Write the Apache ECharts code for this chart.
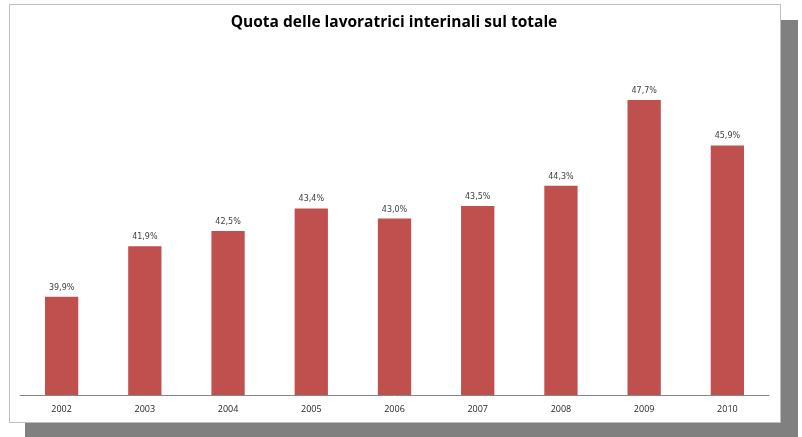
<!DOCTYPE html>
<html><head><meta charset="utf-8">
<script src="https://cdn.jsdelivr.net/npm/echarts@6/dist/echarts.min.js"></script>
<style>html,body{margin:0;padding:0;background:#fff}#c{width:802px;height:437px}</style>
</head><body><div id="c"></div>
<script>
const categories = ['2002','2003','2004','2005','2006','2007','2008','2009','2010'];
const values = [39.9, 41.9, 42.5, 43.4, 43.0, 43.5, 44.3, 47.7, 45.9];
const titleText = 'Quota delle lavoratrici interinali sul totale';

const chart = echarts.init(document.getElementById('c'), null, {renderer:'canvas'});
chart.setOption({
  animation:false,
  backgroundColor:'#fff',
  graphic:[
    {type:'rect', z:-10, silent:true, shape:{x:25,y:20,width:773,height:417}, style:{fill:'#808080'}},
    {type:'rect', z:-9, silent:true, shape:{x:9.5,y:4.5,width:771,height:418}, style:{fill:'#fff', stroke:'#bfbfbf', lineWidth:1}}
  ],
  title:{text:titleText, left:389, top:10, textAlign:'center',
    textStyle:{fontFamily:'Open Sans', fontWeight:'bold', fontSize:15.5, color:'#000'}},
  grid:{left:20, right:33, top:42, bottom:42, containLabel:false},
  xAxis:{type:'category', data:categories,
    axisLine:{lineStyle:{color:'#868686', width:1}},
    axisTick:{show:false},
    axisLabel:{fontFamily:'Open Sans', fontSize:9, color:'#262626', margin:10}},
  yAxis:{type:'value', min:36, max:50, show:false, splitLine:{show:false}},
  series:[{type:'bar', data:values, barWidth:'40%',
    itemStyle:{color:'#C0504D'},
    label:{show:true, position:'top', distance:5, fontFamily:'DejaVu Sans', fontSize:8, color:'#404040',
      formatter:p=>p.value.toFixed(1).replace('.',',')+'%'}}]
});
</script></body></html>
